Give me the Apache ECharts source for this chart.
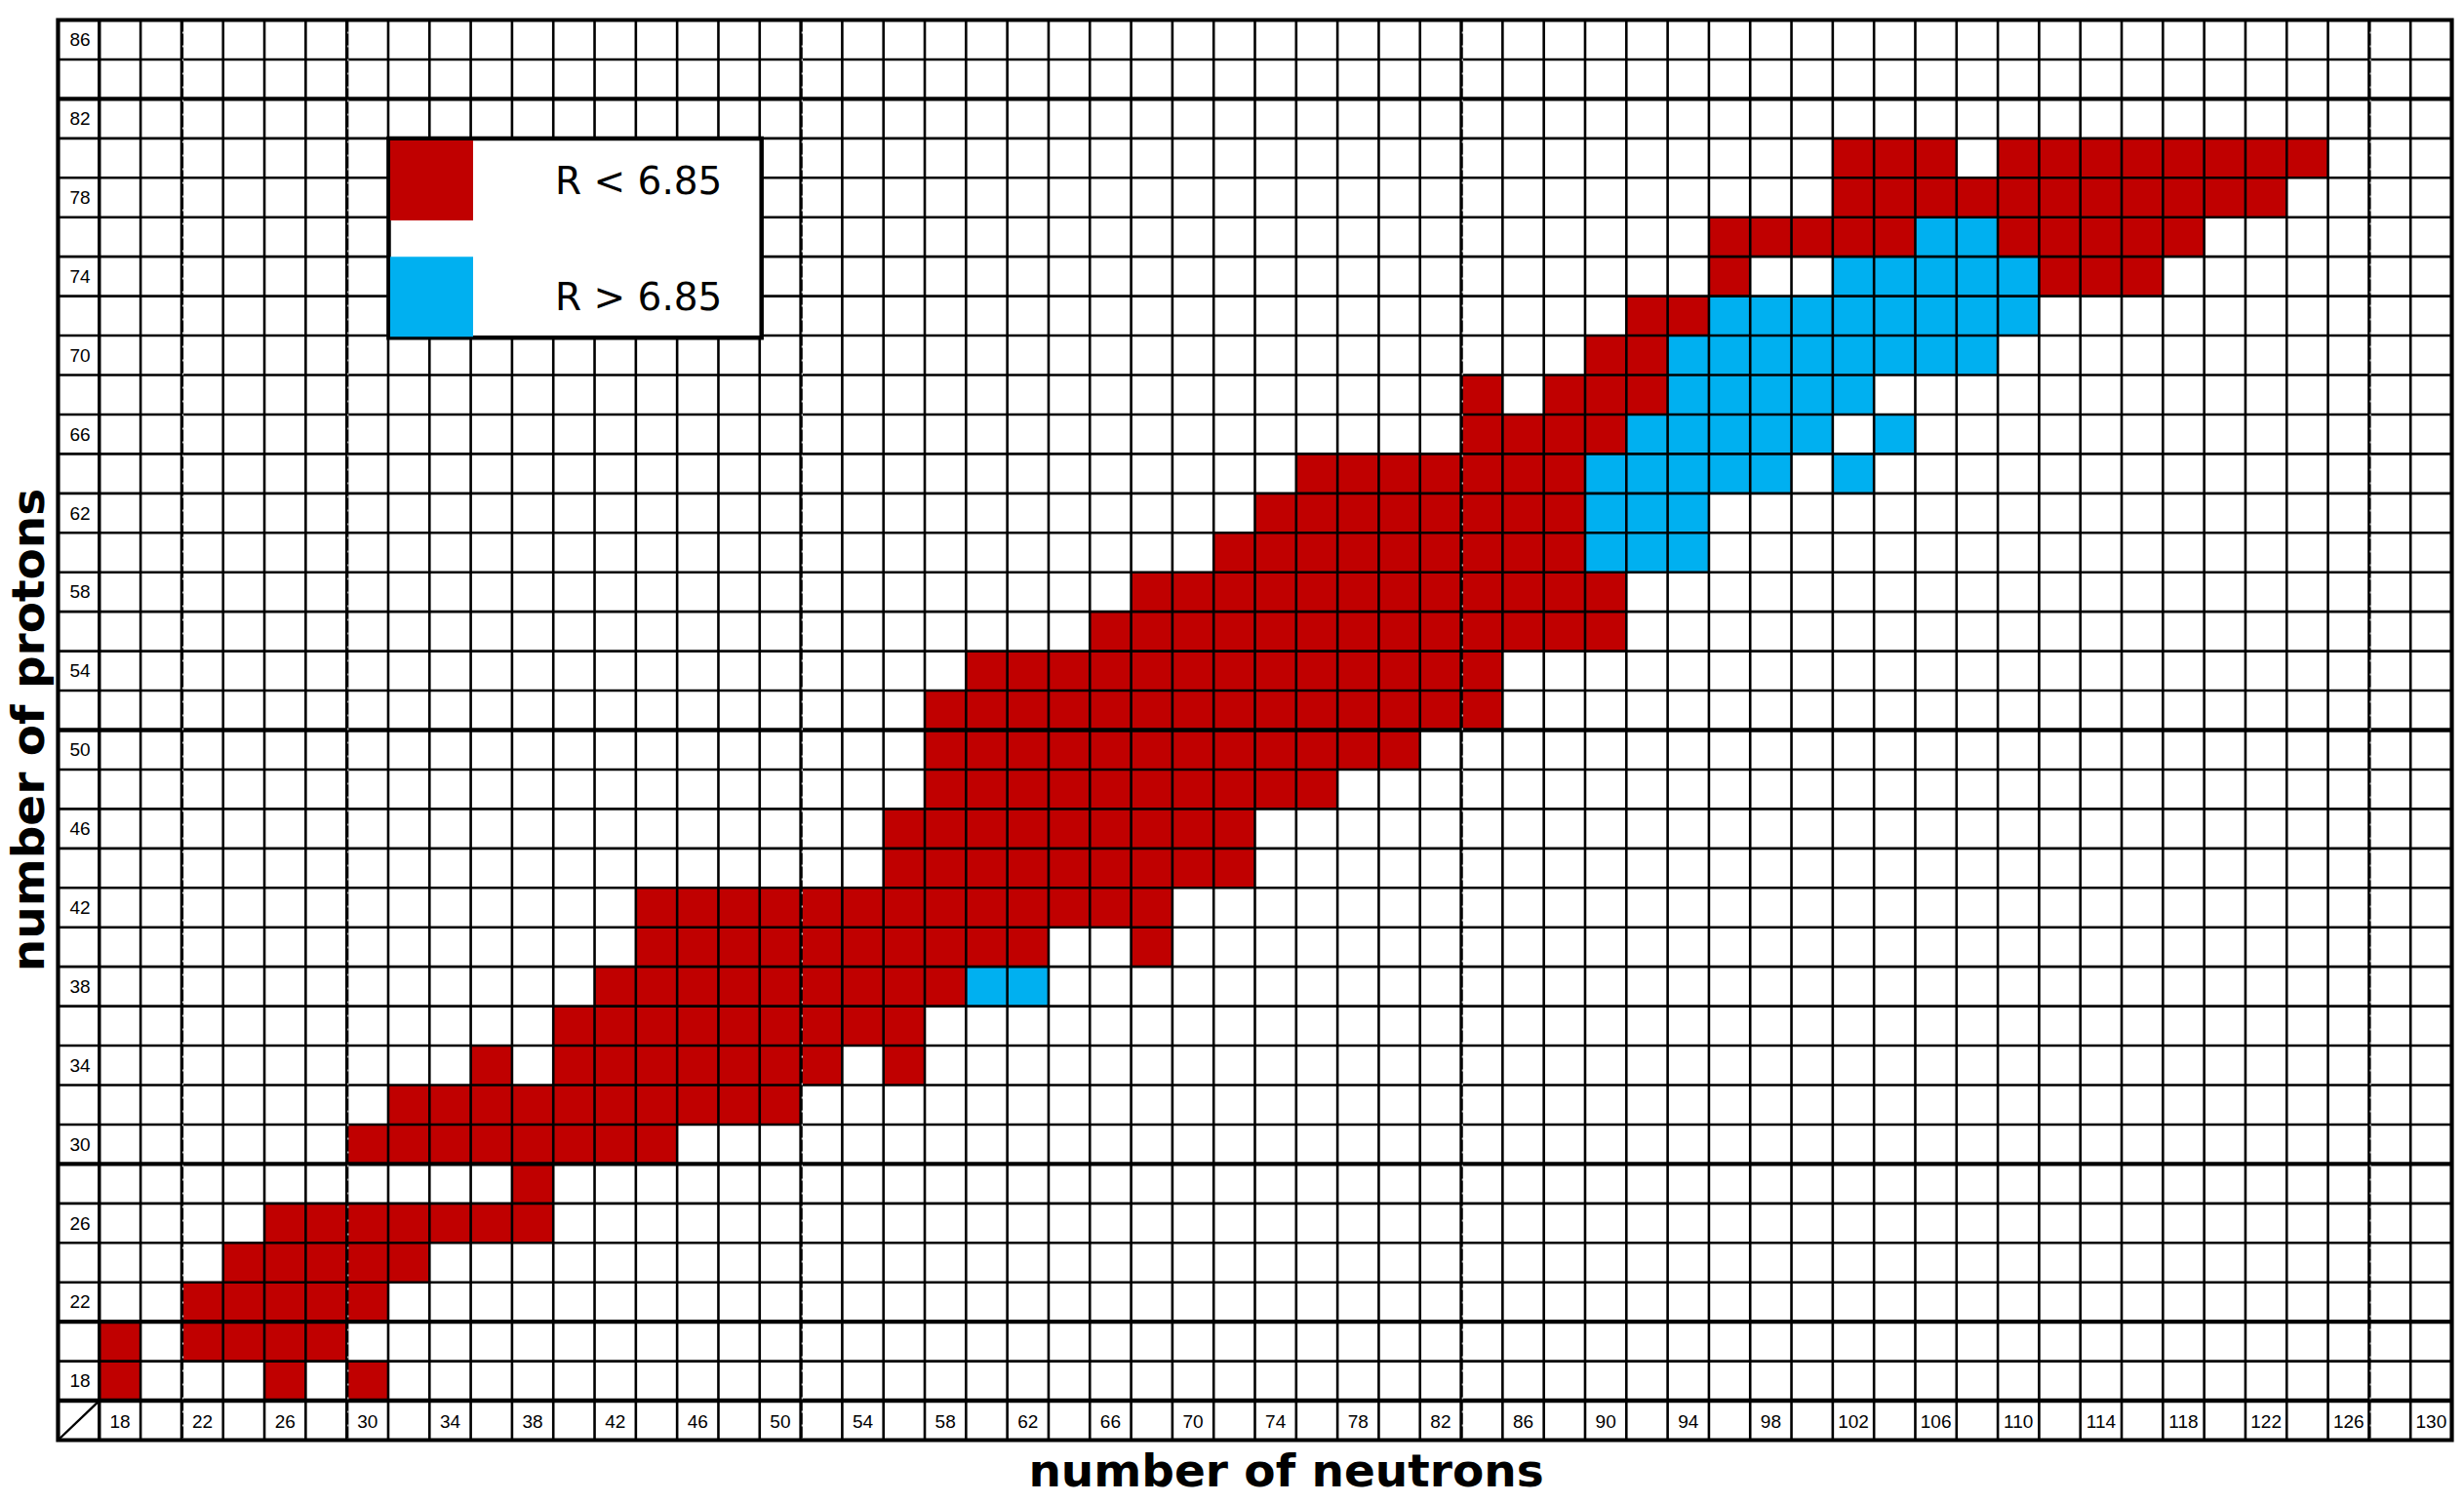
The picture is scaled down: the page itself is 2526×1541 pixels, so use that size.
<!DOCTYPE html>
<html>
<head>
<meta charset="utf-8">
<style>
html, body { margin: 0; padding: 0; background: #ffffff; }
#chart { width: 2526px; height: 1541px; }
</style>
<script src="https://cdn.jsdelivr.net/npm/echarts@6/dist/echarts.min.js"></script>
</head>
<body>
<div id="chart"></div>
<script>
// ---------------- data ----------------
const neutronTicks = [18, 22, 26, 30, 34, 38, 42, 46, 50, 54, 58, 62, 66, 70, 74, 78, 82, 86, 90, 94, 98, 102, 106, 110, 114, 118, 122, 126, 130];
const protonTicks = [18, 22, 26, 30, 34, 38, 42, 46, 50, 54, 58, 62, 66, 70, 74, 78, 82, 86];
const magicNeutrons = [20, 28, 50, 82, 126];
const magicProtons = [20, 28, 50, 82];
const legendLabels = ['R < 6.85', 'R > 6.85'];
const xTitle = 'number of neutrons';
const yTitle = 'number of protons';

// proton number of each row that has marked nuclei
const protonRows = [18, 20, 22, 24, 26, 28, 30, 32, 34, 36, 38, 40, 42, 44, 46, 48,
                    50, 52, 54, 56, 58, 60, 62, 64, 66, 68, 70, 72, 74, 76, 78, 80];

// neutron numbers with R < 6.85 (red), one list per proton row
const neutronsBelow = [
  [18, 26, 30],                                                  // Z=18
  [18, 22, 24, 26, 28],                                          // Z=20
  [22, 24, 26, 28, 30],                                          // Z=22
  [24, 26, 28, 30, 32],                                          // Z=24
  [26, 28, 30, 32, 34, 36, 38],                                  // Z=26
  [38],                                                          // Z=28
  [30, 32, 34, 36, 38, 40, 42, 44],                              // Z=30
  [32, 34, 36, 38, 40, 42, 44, 46, 48, 50],                      // Z=32
  [36, 40, 42, 44, 46, 48, 50, 52, 56],                          // Z=34
  [40, 42, 44, 46, 48, 50, 52, 54, 56],                          // Z=36
  [42, 44, 46, 48, 50, 52, 54, 56, 58],                          // Z=38
  [44, 46, 48, 50, 52, 54, 56, 58, 60, 62, 68],                  // Z=40
  [44, 46, 48, 50, 52, 54, 56, 58, 60, 62, 64, 66, 68],          // Z=42
  [56, 58, 60, 62, 64, 66, 68, 70, 72],                          // Z=44
  [56, 58, 60, 62, 64, 66, 68, 70, 72],                          // Z=46
  [58, 60, 62, 64, 66, 68, 70, 72, 74, 76],                      // Z=48
  [58, 60, 62, 64, 66, 68, 70, 72, 74, 76, 78, 80],              // Z=50
  [58, 60, 62, 64, 66, 68, 70, 72, 74, 76, 78, 80, 82, 84],      // Z=52
  [60, 62, 64, 66, 68, 70, 72, 74, 76, 78, 80, 82, 84],          // Z=54
  [66, 68, 70, 72, 74, 76, 78, 80, 82, 84, 86, 88, 90],          // Z=56
  [68, 70, 72, 74, 76, 78, 80, 82, 84, 86, 88, 90],              // Z=58
  [72, 74, 76, 78, 80, 82, 84, 86, 88],                          // Z=60
  [74, 76, 78, 80, 82, 84, 86, 88],                              // Z=62
  [76, 78, 80, 82, 84, 86, 88],                                  // Z=64
  [84, 86, 88, 90],                                              // Z=66
  [84, 88, 90, 92],                                              // Z=68
  [90, 92],                                                      // Z=70
  [92, 94],                                                      // Z=72
  [96, 112, 114, 116],                                           // Z=74
  [96, 98, 100, 102, 104, 110, 112, 114, 116, 118],              // Z=76
  [102, 104, 106, 108, 110, 112, 114, 116, 118, 120, 122],       // Z=78
  [102, 104, 106, 110, 112, 114, 116, 118, 120, 122, 124]        // Z=80
];

// neutron numbers with R > 6.85 (blue), one list per proton row
const neutronsAbove = [
  [], [], [], [], [], [], [], [], [], [],                        // Z=18..36
  [60, 62],                                                      // Z=38
  [], [], [], [], [], [], [], [], [], [],                        // Z=40..58
  [90, 92, 94],                                                  // Z=60
  [90, 92, 94],                                                  // Z=62
  [90, 92, 94, 96, 98, 102],                                     // Z=64
  [92, 94, 96, 98, 100, 104],                                    // Z=66
  [94, 96, 98, 100, 102],                                        // Z=68
  [94, 96, 98, 100, 102, 104, 106, 108],                         // Z=70
  [96, 98, 100, 102, 104, 106, 108, 110],                        // Z=72
  [102, 104, 106, 108, 110],                                     // Z=74
  [106, 108],                                                    // Z=76
  [],                                                            // Z=78
  []                                                             // Z=80
];

// ---------------- chart ----------------
const X_MIN = 15, X_MAX = 131;   // label column occupies 15..17
const Y_MIN = 15, Y_MAX = 87;    // label row occupies 15..17
const RED = '#c00000', BLUE = '#00b0f0';
const tickFont = "'Liberation Sans Narrow', 'Liberation Sans', Arial, sans-serif";
const titleFont = "'DejaVu Sans', sans-serif";

function toCells(lists) {
  const out = [];
  protonRows.forEach((z, i) => lists[i].forEach(n => out.push([n, z])));
  return out;
}

function renderCell(params, api) {
  const n = api.value(0), z = api.value(1);
  const p0 = api.coord([n - 1, z + 1]);
  const p1 = api.coord([n + 1, z - 1]);
  return {
    type: 'rect',
    shape: { x: p0[0], y: p0[1], width: p1[0] - p0[0], height: p1[1] - p0[1] },
    style: { fill: api.visual('color') }
  };
}

function renderFrame(params, api) {
  const children = [];
  const line = (a, b, w, extra) => children.push({
    type: 'line',
    shape: { x1: a[0], y1: a[1], x2: b[0], y2: b[1] },
    style: Object.assign({ stroke: '#000', lineWidth: w }, extra || {})
  });
  for (let x = X_MIN + 2; x < X_MAX; x += 2) {
    const magic = magicNeutrons.indexOf(x - 1) >= 0;
    const w = (magic || x === X_MIN + 2) ? 3.4 : 2.6;
    line(api.coord([x, Y_MIN]), api.coord([x, Y_MAX]), w);
  }
  for (let y = Y_MIN + 2; y < Y_MAX; y += 2) {
    const magic = magicProtons.indexOf(y - 1) >= 0;
    const w = (magic || y === Y_MIN + 2) ? 4.4 : 2.6;
    line(api.coord([X_MIN, y]), api.coord([X_MAX, y]), w);
  }
  // faint white breaks on the magic-number neutron lines (they look dashed)
  magicNeutrons.forEach(m => {
    const a = api.coord([m + 1, Y_MIN]), b = api.coord([m + 1, Y_MAX]);
    line([a[0] + 1.2, a[1]], [b[0] + 1.2, b[1]], 1, { stroke: '#fff', lineDash: [2, 12] });
  });
  const tl = api.coord([X_MIN, Y_MAX]), br = api.coord([X_MIN, Y_MIN]);
  const tr = api.coord([X_MAX, Y_MAX]);
  children.push({
    type: 'rect',
    shape: { x: tl[0], y: tl[1], width: tr[0] - tl[0], height: br[1] - tl[1] },
    style: { fill: null, stroke: '#000', lineWidth: 4.2 }
  });
  line(api.coord([X_MIN, Y_MIN]), api.coord([X_MIN + 2, Y_MIN + 2]), 2.4);
  return { type: 'group', children: children };
}

const chart = echarts.init(document.getElementById('chart'), null, { renderer: 'svg' });
chart.setOption({
  animation: false,
  backgroundColor: '#ffffff',
  grid: { left: 59.5, top: 20.5, width: 2454, height: 1456, containLabel: false, outerBoundsMode: 'none' },
  xAxis: {
    type: 'value', min: X_MIN, max: X_MAX,
    axisLine: { show: false }, axisTick: { show: false }, splitLine: { show: false },
    axisLabel: {
      customValues: neutronTicks, inside: true, margin: 19.5,
      verticalAlign: 'middle', align: 'center',
      fontFamily: tickFont, fontSize: 19, color: '#000'
    },
    name: xTitle, nameLocation: 'middle', nameGap: 30.5,
    nameTextStyle: { fontFamily: titleFont, fontWeight: 'bold', fontSize: 47, color: '#000',
                     verticalAlign: 'middle', padding: [0, 0, 0, 64] }
  },
  yAxis: {
    type: 'value', min: Y_MIN, max: Y_MAX,
    axisLine: { show: false }, axisTick: { show: false }, splitLine: { show: false },
    axisLabel: {
      customValues: protonTicks, inside: true, margin: 22.5,
      verticalAlign: 'middle', align: 'center',
      fontFamily: tickFont, fontSize: 19, color: '#000'
    },
    name: yTitle, nameLocation: 'middle', nameGap: 24.5,
    nameTextStyle: { fontFamily: titleFont, fontWeight: 'bold', fontSize: 47, color: '#000', verticalAlign: 'middle' }
  },
  legend: {
    orient: 'vertical', left: 398.5, top: 142,
    padding: [2, 40.3, 1, 1.5],
    itemWidth: 85, itemHeight: 82, itemGap: 37.3,
    icon: 'rect', selectedMode: false,
    backgroundColor: '#ffffff', borderColor: '#000', borderWidth: 4.5, borderRadius: 0,
    textStyle: { fontFamily: titleFont, fontSize: 39, color: '#000', padding: [0, 0, 0, 79], width: 170 },
    data: legendLabels
  },
  series: [
    { type: 'custom', name: legendLabels[0], renderItem: renderCell, data: toCells(neutronsBelow),
      itemStyle: { color: RED }, encode: { x: 0, y: 1 }, z: 1, silent: true },
    { type: 'custom', name: legendLabels[1], renderItem: renderCell, data: toCells(neutronsAbove),
      itemStyle: { color: BLUE }, encode: { x: 0, y: 1 }, z: 1, silent: true },
    { type: 'custom', name: 'frame', renderItem: renderFrame, data: [[16, 16]],
      encode: { x: 0, y: 1 }, z: 3, silent: true }
  ]
});
</script>
</body>
</html>
